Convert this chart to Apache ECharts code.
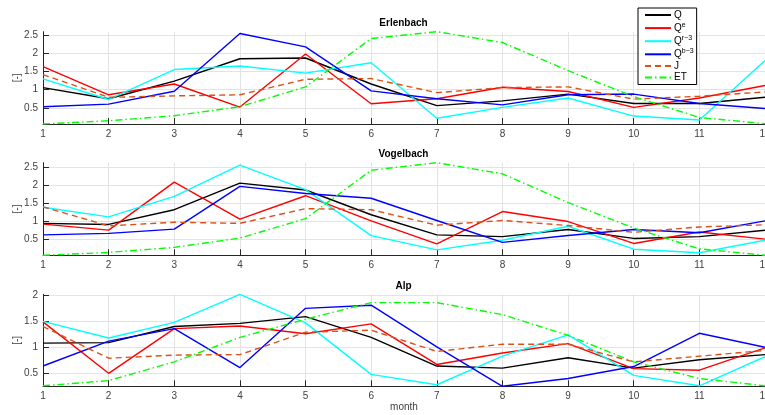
<!DOCTYPE html>
<html><head><meta charset="utf-8">
<script src="https://cdn.jsdelivr.net/npm/echarts@6/dist/echarts.min.js"></script>
<style>html,body{margin:0;padding:0;background:#fff}#c{width:765px;height:415px}</style>
</head><body><div id="c"></div>
<script>
const months = [1,2,3,4,5,6,7,8,9,10,11,12];
const seriesNames = ['Q','Q^e','Q^r-3','Q^b-3','J','ET'];
const panelTitles = ['Erlenbach','Vogelbach','Alp'];
const yTicksErlenbach = [0.5,1,1.5,2,2.5];
const yTicksVogelbach = [0.5,1,1.5,2,2.5];
const yTicksAlp = [0.5,1,1.5,2];

// Erlenbach
const erl_Q   = [1.06,0.75,1.24,1.86,1.88,1.16,0.56,0.69,0.88,0.62,0.62,0.79];
const erl_Qe  = [1.64,0.86,1.16,0.52,1.99,0.61,0.75,1.07,0.95,0.51,0.77,1.12];
const erl_Qr  = [1.30,0.73,1.56,1.66,1.46,1.75,0.21,0.51,0.77,0.27,0.16,1.81];
const erl_Qb  = [0.53,0.60,0.96,2.56,2.19,0.97,0.75,0.58,0.86,0.88,0.62,0.48];
const erl_J   = [1.42,0.79,0.83,0.86,1.29,1.31,0.92,1.06,1.08,0.74,0.82,0.94];
const erl_ET  = [0.05,0.14,0.28,0.53,1.08,2.42,2.61,2.31,1.53,0.81,0.23,0.06];
// Vogelbach
const vog_Q   = [0.93,0.90,1.31,2.05,1.86,1.17,0.61,0.56,0.76,0.51,0.56,0.74];
const vog_Qe  = [0.91,0.74,2.08,1.05,1.70,1.00,0.36,1.26,0.98,0.37,0.69,0.49];
const vog_Qr  = [1.38,1.11,1.68,2.55,1.87,0.59,0.19,0.46,0.85,0.21,0.11,0.46];
const vog_Qb  = [0.61,0.65,0.77,1.96,1.76,1.63,1.01,0.40,0.59,0.76,0.67,1.00];
const vog_J   = [1.39,0.86,0.96,0.93,1.34,1.31,0.88,1.01,0.87,0.68,0.83,0.89];
const vog_ET  = [0.04,0.12,0.26,0.52,1.06,2.41,2.62,2.31,1.51,0.80,0.22,0.04];
// Alp
const alp_Q   = [1.08,1.09,1.40,1.46,1.59,1.19,0.64,0.60,0.80,0.60,0.76,0.86];
const alp_Qe  = [1.49,0.50,1.36,1.41,1.26,1.45,0.67,0.89,1.07,0.59,0.56,0.99];
const alp_Qr  = [1.50,1.18,1.48,2.02,1.47,0.48,0.28,0.83,1.24,0.46,0.26,0.82];
const alp_Qb  = [0.64,1.12,1.36,0.61,1.75,1.81,1.01,0.25,0.40,0.63,1.27,1.00];
const alp_J   = [1.40,0.79,0.85,0.86,1.29,1.33,0.92,1.06,1.06,0.72,0.83,0.94];
const alp_ET  = [0.26,0.36,0.72,1.19,1.54,1.86,1.86,1.63,1.23,0.72,0.40,0.26];

const panels = [
  [erl_Q, erl_Qe, erl_Qr, erl_Qb, erl_J, erl_ET],
  [vog_Q, vog_Qe, vog_Qr, vog_Qb, vog_J, vog_ET],
  [alp_Q, alp_Qe, alp_Qr, alp_Qb, alp_J, alp_ET]
];
const panelYTicks = [yTicksErlenbach, yTicksVogelbach, yTicksAlp];

const colors = ['#000000','#ff0000','#00ffff','#0000ff','#d95319','#00ff00'];
const lineTypes = ['solid','solid','solid','solid',[6,4],[7,3,1.5,3]];
const gridTops = [31.7, 162.7, 294.3];
const gridsH = [92.3, 92.6, 92];
const textColor = '#404040';
const font = 'Liberation Sans, Arial, Helvetica, sans-serif';

const grid = [], xAxis = [], yAxis = [], series = [], title = [];
panels.forEach((p, i) => {
  grid.push({left: 43, right: 0, top: gridTops[i], height: gridsH[i], containLabel: false, outerBoundsMode: 'none'});
  title.push({text: panelTitles[i], left: 403.5, textAlign: 'center', top: gridTops[i] - 13.5, padding: 0,
    textStyle: {fontSize: 10, fontWeight: 'bold', color: '#000', fontFamily: font}});
  xAxis.push({type: 'value', gridIndex: i, min: 1, max: 12, interval: 1,
    name: i === 2 ? 'month' : '', nameLocation: 'middle', nameGap: 16,
    nameTextStyle: {fontSize: 10, color: textColor, fontFamily: font},
    axisLine: {show: true, lineStyle: {color: '#262626', width: 1}},
    axisTick: {show: true, inside: true, length: 6, lineStyle: {color: '#262626'}},
    axisLabel: {fontSize: 10, color: textColor, margin: 5, fontFamily: font, hideOverlap: false},
    splitLine: {show: true, lineStyle: {color: '#e3e3e3', width: 1}}
  });
  const ticks = panelYTicks[i];
  yAxis.push({type: 'value', gridIndex: i,
    min: v => v.min, max: v => v.max,
    name: '[-]', nameLocation: 'middle', nameGap: 21, nameMoveOverlap: false,
    nameTextStyle: {fontSize: 10, color: textColor, fontFamily: font},
    axisLine: {show: true, lineStyle: {color: '#262626', width: 1}},
    axisTick: {show: true, inside: true, length: 6, customValues: ticks, lineStyle: {color: '#262626'}},
    axisLabel: {fontSize: 10, color: textColor, margin: 5, fontFamily: font, customValues: ticks,
      formatter: v => String(v)},
    splitLine: {show: true, lineStyle: {color: '#e3e3e3', width: 1}}
  });
  p.forEach((vals, k) => {
    series.push({
      name: seriesNames[k], type: 'line', xAxisIndex: i, yAxisIndex: i,
      data: months.map((m, j) => [m, vals[j]]),
      symbol: 'none', silent: true, animation: false, z: 2 + k,
      lineStyle: {color: colors[k], width: 1.4, type: lineTypes[k]},
      itemStyle: {color: colors[k]}
    });
  });
});

const chart = echarts.init(document.getElementById('c'), null, {renderer: 'canvas'});
chart.setOption({
  animation: false,
  backgroundColor: '#fff',
  title, grid, xAxis, yAxis, series,
  legend: {
    data: seriesNames, orient: 'vertical', left: 638, top: 8,
    itemWidth: 26, itemHeight: 10, itemGap: 1.6, padding: [2, 3, 2, 6],
    backgroundColor: '#fff', borderColor: '#000', borderWidth: 1, itemStyle: {opacity: 0},
    textStyle: {fontSize: 10, color: '#000', fontFamily: font, padding: [0,0,0,-2],
      rich: {b: {fontSize: 10, color: '#000', fontFamily: font}, s: {fontSize: 7, color: '#000', fontFamily: font, padding: [0,0,6,0]}}},
    formatter: name => {
      const parts = name.split('^');
      return parts.length > 1 ? '{b|' + parts[0] + '}{s|' + parts[1].replace('-', '\u2212') + '}' : '{b|' + name + '}';
    },
    selectedMode: false, z: 10
  }
});
</script></body></html>
